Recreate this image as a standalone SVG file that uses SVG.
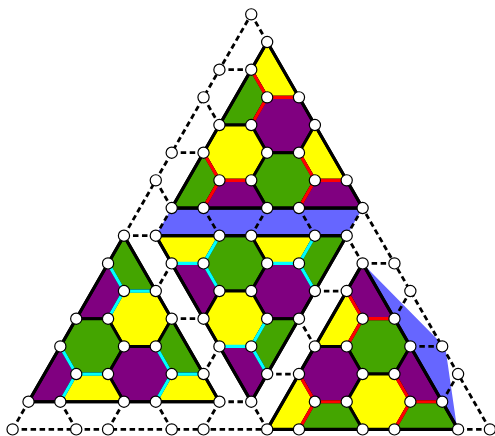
<svg xmlns="http://www.w3.org/2000/svg" width="495" height="436" viewBox="0 0 495 436">
<style>
.g{fill:#44a500}.y{fill:#ffff00}.p{fill:#800080}
.cell polygon{stroke:#000;stroke-width:3;stroke-linejoin:round}
.blue{fill:#6666ff;stroke:none}
.out{fill:none;stroke:#000;stroke-width:3.2;stroke-linejoin:round}
.red line{stroke:#ff0000;stroke-width:3.2;stroke-linecap:round}
.cyan line{stroke:#00ffff;stroke-width:3.2;stroke-linecap:round}
.dash line{stroke:#000;stroke-width:2.8;stroke-dasharray:5.5 3.5}
.nodes circle{fill:#fff;stroke:#000;stroke-width:1.2}
</style>
<rect width="495" height="436" fill="#fff"/>
<g id="blue-regions">
<polygon class="blue" points="171.7,208.04 362.62,208.04 346.71,235.71 155.79,235.71"/>
<polygon class="blue" points="362.62,263.38 437,339 446,352 457,428 458.08,429.4"/>
</g>
<g id="triangle-top" class="cell">
<polygon class="y" points="267.16,42.02 251.25,69.69 267.16,97.36 298.98,97.36"/>
<polygon class="g" points="251.25,69.69 267.16,97.36 251.25,125.03 219.43,125.03"/>
<polygon class="p" points="298.98,97.36 267.16,97.36 251.25,125.03 267.16,152.7 298.98,152.7 314.89,125.03"/>
<polygon class="y" points="251.25,125.03 219.43,125.03 203.52,152.7 219.43,180.37 251.25,180.37 267.16,152.7"/>
<polygon class="y" points="314.89,125.03 298.98,152.7 314.89,180.37 346.71,180.37"/>
<polygon class="g" points="203.52,152.7 171.7,208.04 203.52,208.04 219.43,180.37"/>
<polygon class="g" points="298.98,152.7 267.16,152.7 251.25,180.37 267.16,208.04 298.98,208.04 314.89,180.37"/>
<polygon class="p" points="251.25,180.37 219.43,180.37 203.52,208.04 267.16,208.04"/>
<polygon class="p" points="346.71,180.37 314.89,180.37 298.98,208.04 362.62,208.04"/>
</g>
<g id="triangle-left" class="cell">
<polygon class="g" points="123.97,235.71 108.06,263.38 123.97,291.05 155.79,291.05"/>
<polygon class="p" points="108.06,263.38 76.24,318.72 108.06,318.72 123.97,291.05"/>
<polygon class="y" points="155.79,291.05 123.97,291.05 108.06,318.72 123.97,346.39 155.79,346.39 171.7,318.72"/>
<polygon class="g" points="108.06,318.72 76.24,318.72 60.33,346.39 76.24,374.06 108.06,374.06 123.97,346.39"/>
<polygon class="g" points="171.7,318.72 155.79,346.39 171.7,374.06 203.52,374.06"/>
<polygon class="p" points="60.33,346.39 28.51,401.73 60.33,401.73 76.24,374.06"/>
<polygon class="p" points="155.79,346.39 123.97,346.39 108.06,374.06 123.97,401.73 155.79,401.73 171.7,374.06"/>
<polygon class="y" points="108.06,374.06 76.24,374.06 60.33,401.73 123.97,401.73"/>
<polygon class="y" points="203.52,374.06 171.7,374.06 155.79,401.73 219.43,401.73"/>
</g>
<g id="triangle-middle" class="cell">
<polygon class="y" points="155.79,235.71 219.43,235.71 203.52,263.38 171.7,263.38"/>
<polygon class="y" points="251.25,235.71 267.16,263.38 298.98,263.38 314.89,235.71"/>
<polygon class="g" points="251.25,235.71 219.43,235.71 203.52,263.38 219.43,291.05 251.25,291.05 267.16,263.38"/>
<polygon class="g" points="346.71,235.71 314.89,235.71 298.98,263.38 314.89,291.05"/>
<polygon class="p" points="171.7,263.38 203.52,263.38 219.43,291.05 203.52,318.72"/>
<polygon class="p" points="298.98,263.38 267.16,263.38 251.25,291.05 267.16,318.72 298.98,318.72 314.89,291.05"/>
<polygon class="y" points="251.25,291.05 219.43,291.05 203.52,318.72 219.43,346.39 251.25,346.39 267.16,318.72"/>
<polygon class="g" points="298.98,318.72 267.16,318.72 251.25,346.39 267.16,374.06"/>
<polygon class="p" points="219.43,346.39 251.25,346.39 267.16,374.06 251.25,401.73"/>
</g>
<g id="triangle-right" class="cell">
<polygon class="p" points="362.62,263.38 346.71,291.05 362.62,318.72 394.44,318.72"/>
<polygon class="y" points="346.71,291.05 314.89,346.39 346.71,346.39 362.62,318.72"/>
<polygon class="g" points="394.44,318.72 362.62,318.72 346.71,346.39 362.62,374.06 394.44,374.06 410.35,346.39"/>
<polygon class="p" points="346.71,346.39 314.89,346.39 298.98,374.06 314.89,401.73 346.71,401.73 362.62,374.06"/>
<polygon class="p" points="410.35,346.39 394.44,374.06 410.35,401.73 442.17,401.73"/>
<polygon class="y" points="298.98,374.06 267.16,429.4 298.98,429.4 314.89,401.73"/>
<polygon class="y" points="394.44,374.06 362.62,374.06 346.71,401.73 362.62,429.4 394.44,429.4 410.35,401.73"/>
<polygon class="g" points="346.71,401.73 314.89,401.73 298.98,429.4 362.62,429.4"/>
<polygon class="g" points="442.17,401.73 410.35,401.73 394.44,429.4 458.08,429.4"/>
</g>
<g id="outlines">
<polygon class="out" points="267.16,42.02 171.7,208.04 362.62,208.04"/>
<polygon class="out" points="123.97,235.71 28.51,401.73 219.43,401.73"/>
<polygon class="out" points="155.79,235.71 346.71,235.71 251.25,401.73"/>
<polygon class="out" points="362.62,263.38 267.16,429.4 458.08,429.4"/>
</g>
<g id="connectors">
<g class="red">
<line x1="267.16" y1="97.36" x2="251.25" y2="69.69"/><line x1="267.16" y1="97.36" x2="298.98" y2="97.36"/><line x1="267.16" y1="97.36" x2="251.25" y2="125.03"/>
<line x1="219.43" y1="180.37" x2="203.52" y2="152.7"/><line x1="219.43" y1="180.37" x2="251.25" y2="180.37"/><line x1="219.43" y1="180.37" x2="203.52" y2="208.04"/>
<line x1="314.89" y1="180.37" x2="298.98" y2="152.7"/><line x1="314.89" y1="180.37" x2="346.71" y2="180.37"/><line x1="314.89" y1="180.37" x2="298.98" y2="208.04"/>
<line x1="362.62" y1="318.72" x2="346.71" y2="291.05"/><line x1="362.62" y1="318.72" x2="394.44" y2="318.72"/><line x1="362.62" y1="318.72" x2="346.71" y2="346.39"/>
<line x1="314.89" y1="401.73" x2="298.98" y2="374.06"/><line x1="314.89" y1="401.73" x2="346.71" y2="401.73"/><line x1="314.89" y1="401.73" x2="298.98" y2="429.4"/>
<line x1="410.35" y1="401.73" x2="394.44" y2="374.06"/><line x1="410.35" y1="401.73" x2="442.17" y2="401.73"/><line x1="410.35" y1="401.73" x2="394.44" y2="429.4"/>
</g>
<g class="cyan">
<line x1="123.97" y1="291.05" x2="108.06" y2="263.38"/><line x1="123.97" y1="291.05" x2="155.79" y2="291.05"/><line x1="123.97" y1="291.05" x2="108.06" y2="318.72"/>
<line x1="76.24" y1="374.06" x2="60.33" y2="346.39"/><line x1="76.24" y1="374.06" x2="108.06" y2="374.06"/><line x1="76.24" y1="374.06" x2="60.33" y2="401.73"/>
<line x1="171.7" y1="374.06" x2="155.79" y2="346.39"/><line x1="171.7" y1="374.06" x2="203.52" y2="374.06"/><line x1="171.7" y1="374.06" x2="155.79" y2="401.73"/>
<line x1="203.52" y1="263.38" x2="171.7" y2="263.38"/><line x1="203.52" y1="263.38" x2="219.43" y2="291.05"/><line x1="203.52" y1="263.38" x2="219.43" y2="235.71"/>
<line x1="298.98" y1="263.38" x2="267.16" y2="263.38"/><line x1="298.98" y1="263.38" x2="314.89" y2="291.05"/><line x1="298.98" y1="263.38" x2="314.89" y2="235.71"/>
<line x1="251.25" y1="346.39" x2="219.43" y2="346.39"/><line x1="251.25" y1="346.39" x2="267.16" y2="374.06"/><line x1="251.25" y1="346.39" x2="267.16" y2="318.72"/>
</g>
<g class="dash">
<line x1="12.6" y1="429.4" x2="28.51" y2="401.73"/>
<line x1="123.97" y1="235.71" x2="251.25" y2="14.35"/>
<line x1="12.6" y1="429.4" x2="267.16" y2="429.4"/>
<line x1="458.08" y1="429.4" x2="489.9" y2="429.4"/>
<line x1="489.9" y1="429.4" x2="362.62" y2="208.04"/>
<line x1="267.16" y1="42.02" x2="251.25" y2="14.35"/>
<line x1="219.43" y1="69.69" x2="251.25" y2="69.69"/>
<line x1="203.52" y1="97.36" x2="219.43" y2="125.03"/>
<line x1="171.7" y1="152.7" x2="203.52" y2="152.7"/>
<line x1="155.79" y1="180.37" x2="171.7" y2="208.04"/>
<line x1="123.97" y1="235.71" x2="155.79" y2="235.71"/>
<line x1="171.7" y1="208.04" x2="155.79" y2="235.71"/>
<line x1="203.52" y1="208.04" x2="219.43" y2="235.71"/>
<line x1="267.16" y1="208.04" x2="251.25" y2="235.71"/>
<line x1="298.98" y1="208.04" x2="314.89" y2="235.71"/>
<line x1="362.62" y1="208.04" x2="346.71" y2="235.71"/>
<line x1="171.7" y1="263.38" x2="155.79" y2="291.05"/>
<line x1="171.7" y1="318.72" x2="203.52" y2="318.72"/>
<line x1="219.43" y1="346.39" x2="203.52" y2="374.06"/>
<line x1="219.43" y1="401.73" x2="251.25" y2="401.73"/>
<line x1="60.33" y1="401.73" x2="76.24" y2="429.4"/>
<line x1="123.97" y1="401.73" x2="108.06" y2="429.4"/>
<line x1="155.79" y1="401.73" x2="171.7" y2="429.4"/>
<line x1="219.43" y1="401.73" x2="203.52" y2="429.4"/>
<line x1="251.25" y1="401.73" x2="267.16" y2="429.4"/>
<line x1="346.71" y1="235.71" x2="362.62" y2="263.38"/>
<line x1="314.89" y1="291.05" x2="346.71" y2="291.05"/>
<line x1="298.98" y1="318.72" x2="314.89" y2="346.39"/>
<line x1="267.16" y1="374.06" x2="298.98" y2="374.06"/>
<line x1="362.62" y1="263.38" x2="394.44" y2="263.38"/>
<line x1="394.44" y1="318.72" x2="410.35" y2="291.05"/>
<line x1="410.35" y1="346.39" x2="442.17" y2="346.39"/>
<line x1="442.17" y1="401.73" x2="458.08" y2="374.06"/>
</g>
</g>
<g id="nodes" class="nodes">
<g id="n0-0"><circle cx="12.6" cy="429.4" r="5.6"/></g>
<g id="n0-2"><circle cx="76.24" cy="429.4" r="5.6"/></g>
<g id="n0-3"><circle cx="108.06" cy="429.4" r="5.6"/></g>
<g id="n0-5"><circle cx="171.7" cy="429.4" r="5.6"/></g>
<g id="n0-6"><circle cx="203.52" cy="429.4" r="5.6"/></g>
<g id="n0-8"><circle cx="267.16" cy="429.4" r="5.6"/></g>
<g id="n0-9"><circle cx="298.98" cy="429.4" r="5.6"/></g>
<g id="n0-11"><circle cx="362.62" cy="429.4" r="5.6"/></g>
<g id="n0-12"><circle cx="394.44" cy="429.4" r="5.6"/></g>
<g id="n0-14"><circle cx="458.08" cy="429.4" r="5.6"/></g>
<g id="n0-15"><circle cx="489.9" cy="429.4" r="5.6"/></g>
<g id="n1-0"><circle cx="28.51" cy="401.73" r="5.6"/></g>
<g id="n1-1"><circle cx="60.33" cy="401.73" r="5.6"/></g>
<g id="n1-3"><circle cx="123.97" cy="401.73" r="5.6"/></g>
<g id="n1-4"><circle cx="155.79" cy="401.73" r="5.6"/></g>
<g id="n1-6"><circle cx="219.43" cy="401.73" r="5.6"/></g>
<g id="n1-7"><circle cx="251.25" cy="401.73" r="5.6"/></g>
<g id="n1-9"><circle cx="314.89" cy="401.73" r="5.6"/></g>
<g id="n1-10"><circle cx="346.71" cy="401.73" r="5.6"/></g>
<g id="n1-12"><circle cx="410.35" cy="401.73" r="5.6"/></g>
<g id="n1-13"><circle cx="442.17" cy="401.73" r="5.6"/></g>
<g id="n2-1"><circle cx="76.24" cy="374.06" r="5.6"/></g>
<g id="n2-2"><circle cx="108.06" cy="374.06" r="5.6"/></g>
<g id="n2-4"><circle cx="171.7" cy="374.06" r="5.6"/></g>
<g id="n2-5"><circle cx="203.52" cy="374.06" r="5.6"/></g>
<g id="n2-7"><circle cx="267.16" cy="374.06" r="5.6"/></g>
<g id="n2-8"><circle cx="298.98" cy="374.06" r="5.6"/></g>
<g id="n2-10"><circle cx="362.62" cy="374.06" r="5.6"/></g>
<g id="n2-11"><circle cx="394.44" cy="374.06" r="5.6"/></g>
<g id="n2-13"><circle cx="458.08" cy="374.06" r="5.6"/></g>
<g id="n3-0"><circle cx="60.33" cy="346.39" r="5.6"/></g>
<g id="n3-2"><circle cx="123.97" cy="346.39" r="5.6"/></g>
<g id="n3-3"><circle cx="155.79" cy="346.39" r="5.6"/></g>
<g id="n3-5"><circle cx="219.43" cy="346.39" r="5.6"/></g>
<g id="n3-6"><circle cx="251.25" cy="346.39" r="5.6"/></g>
<g id="n3-8"><circle cx="314.89" cy="346.39" r="5.6"/></g>
<g id="n3-9"><circle cx="346.71" cy="346.39" r="5.6"/></g>
<g id="n3-11"><circle cx="410.35" cy="346.39" r="5.6"/></g>
<g id="n3-12"><circle cx="442.17" cy="346.39" r="5.6"/></g>
<g id="n4-0"><circle cx="76.24" cy="318.72" r="5.6"/></g>
<g id="n4-1"><circle cx="108.06" cy="318.72" r="5.6"/></g>
<g id="n4-3"><circle cx="171.7" cy="318.72" r="5.6"/></g>
<g id="n4-4"><circle cx="203.52" cy="318.72" r="5.6"/></g>
<g id="n4-6"><circle cx="267.16" cy="318.72" r="5.6"/></g>
<g id="n4-7"><circle cx="298.98" cy="318.72" r="5.6"/></g>
<g id="n4-9"><circle cx="362.62" cy="318.72" r="5.6"/></g>
<g id="n4-10"><circle cx="394.44" cy="318.72" r="5.6"/></g>
<g id="n5-1"><circle cx="123.97" cy="291.05" r="5.6"/></g>
<g id="n5-2"><circle cx="155.79" cy="291.05" r="5.6"/></g>
<g id="n5-4"><circle cx="219.43" cy="291.05" r="5.6"/></g>
<g id="n5-5"><circle cx="251.25" cy="291.05" r="5.6"/></g>
<g id="n5-7"><circle cx="314.89" cy="291.05" r="5.6"/></g>
<g id="n5-8"><circle cx="346.71" cy="291.05" r="5.6"/></g>
<g id="n5-10"><circle cx="410.35" cy="291.05" r="5.6"/></g>
<g id="n6-0"><circle cx="108.06" cy="263.38" r="5.6"/></g>
<g id="n6-2"><circle cx="171.7" cy="263.38" r="5.6"/></g>
<g id="n6-3"><circle cx="203.52" cy="263.38" r="5.6"/></g>
<g id="n6-5"><circle cx="267.16" cy="263.38" r="5.6"/></g>
<g id="n6-6"><circle cx="298.98" cy="263.38" r="5.6"/></g>
<g id="n6-8"><circle cx="362.62" cy="263.38" r="5.6"/></g>
<g id="n6-9"><circle cx="394.44" cy="263.38" r="5.6"/></g>
<g id="n7-0"><circle cx="123.97" cy="235.71" r="5.6"/></g>
<g id="n7-1"><circle cx="155.79" cy="235.71" r="5.6"/></g>
<g id="n7-3"><circle cx="219.43" cy="235.71" r="5.6"/></g>
<g id="n7-4"><circle cx="251.25" cy="235.71" r="5.6"/></g>
<g id="n7-6"><circle cx="314.89" cy="235.71" r="5.6"/></g>
<g id="n7-7"><circle cx="346.71" cy="235.71" r="5.6"/></g>
<g id="n8-1"><circle cx="171.7" cy="208.04" r="5.6"/></g>
<g id="n8-2"><circle cx="203.52" cy="208.04" r="5.6"/></g>
<g id="n8-4"><circle cx="267.16" cy="208.04" r="5.6"/></g>
<g id="n8-5"><circle cx="298.98" cy="208.04" r="5.6"/></g>
<g id="n8-7"><circle cx="362.62" cy="208.04" r="5.6"/></g>
<g id="n9-0"><circle cx="155.79" cy="180.37" r="5.6"/></g>
<g id="n9-2"><circle cx="219.43" cy="180.37" r="5.6"/></g>
<g id="n9-3"><circle cx="251.25" cy="180.37" r="5.6"/></g>
<g id="n9-5"><circle cx="314.89" cy="180.37" r="5.6"/></g>
<g id="n9-6"><circle cx="346.71" cy="180.37" r="5.6"/></g>
<g id="n10-0"><circle cx="171.7" cy="152.7" r="5.6"/></g>
<g id="n10-1"><circle cx="203.52" cy="152.7" r="5.6"/></g>
<g id="n10-3"><circle cx="267.16" cy="152.7" r="5.6"/></g>
<g id="n10-4"><circle cx="298.98" cy="152.7" r="5.6"/></g>
<g id="n11-1"><circle cx="219.43" cy="125.03" r="5.6"/></g>
<g id="n11-2"><circle cx="251.25" cy="125.03" r="5.6"/></g>
<g id="n11-4"><circle cx="314.89" cy="125.03" r="5.6"/></g>
<g id="n12-0"><circle cx="203.52" cy="97.36" r="5.6"/></g>
<g id="n12-2"><circle cx="267.16" cy="97.36" r="5.6"/></g>
<g id="n12-3"><circle cx="298.98" cy="97.36" r="5.6"/></g>
<g id="n13-0"><circle cx="219.43" cy="69.69" r="5.6"/></g>
<g id="n13-1"><circle cx="251.25" cy="69.69" r="5.6"/></g>
<g id="n14-1"><circle cx="267.16" cy="42.02" r="5.6"/></g>
<g id="n15-0"><circle cx="251.25" cy="14.35" r="5.6"/></g>
</g>
</svg>
